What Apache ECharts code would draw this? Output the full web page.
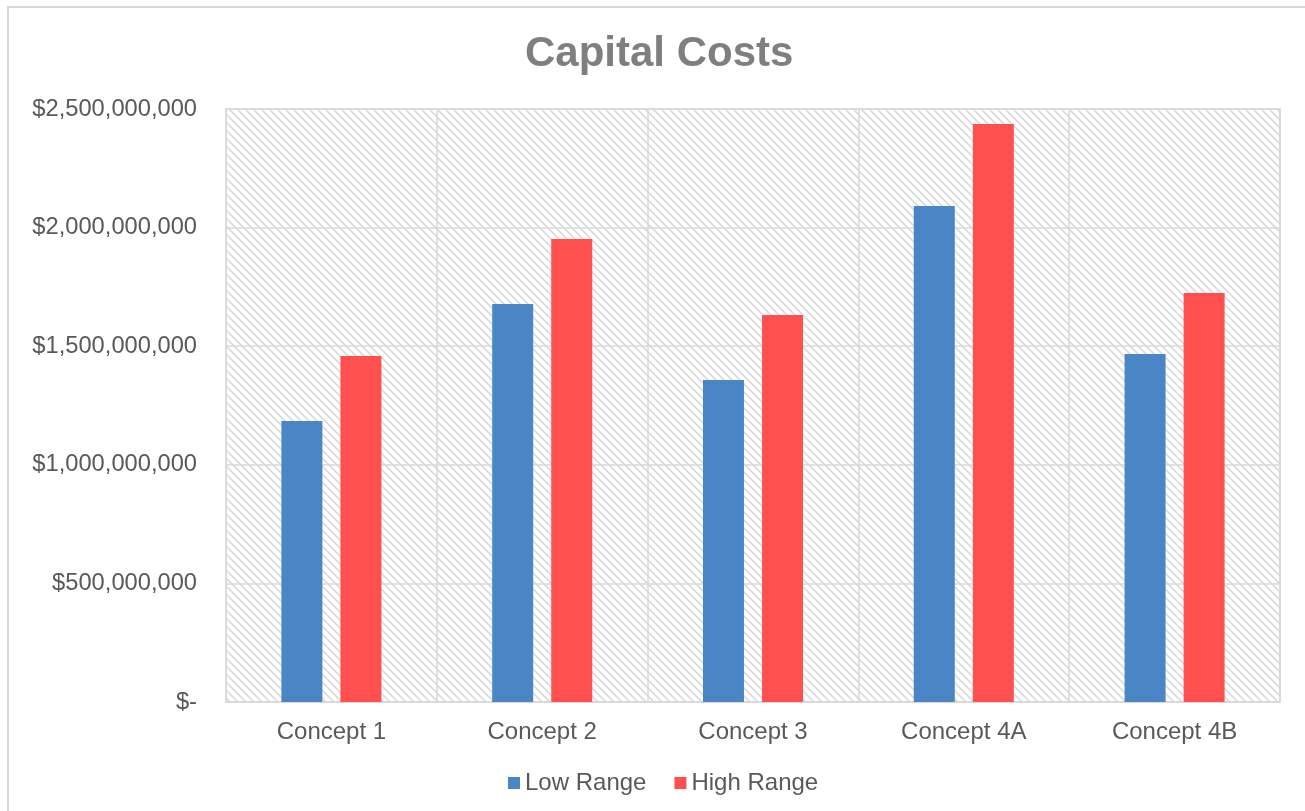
<!DOCTYPE html>
<html>
<head>
<meta charset="utf-8">
<title>Capital Costs</title>
<script src="https://cdn.jsdelivr.net/npm/echarts@6/dist/echarts.min.js"></script>
<style>
  html, body { margin: 0; padding: 0; background: #ffffff; }
  #chart { width: 1305px; height: 811px; }
</style>
</head>
<body>
<div id="chart"></div>
<script>
// Categories and the two cost estimates per concept (US dollars)
const categories = ['Concept 1', 'Concept 2', 'Concept 3', 'Concept 4A', 'Concept 4B'];
const lowRange  = [1185000000, 1678000000, 1357000000, 2091000000, 1467000000];
const highRange = [1459000000, 1952000000, 1632000000, 2437000000, 1724000000];
const seriesNames = ['Low Range', 'High Range'];
const chartTitle = 'Capital Costs';

// Value axis range and step
const yMin = 0;
const yMax = 2500000000;
const yStep = 500000000;

// Accounting-style dollar labels: "$-" for zero, otherwise "$1,000,000,000"
function dollarLabel(v) {
  if (v === 0) return '$-';
  return '$' + v.toLocaleString('en-US');
}

// Light diagonal hatch used as the plot-area fill
function hatchPattern() {
  const s = 8;
  const c = document.createElement('canvas');
  c.width = s; c.height = s;
  const ctx = c.getContext('2d');
  ctx.fillStyle = '#ffffff';
  ctx.fillRect(0, 0, s, s);
  ctx.strokeStyle = '#dadada';
  ctx.lineWidth = 1.6;
  ctx.beginPath();
  ctx.moveTo(-1, -1); ctx.lineTo(s + 1, s + 1);
  ctx.moveTo(s - 2, -2); ctx.lineTo(s + 2, 2);
  ctx.moveTo(-2, s - 2); ctx.lineTo(2, s + 2);
  ctx.stroke();
  return c;
}

const textColor = '#595959';
const gridColor = '#d9d9d9';
const fontFamily = 'Arial, "Liberation Sans", sans-serif';

const chart = echarts.init(document.getElementById('chart'), null, { renderer: 'canvas' });

chart.setOption({
  animation: false,
  backgroundColor: '#ffffff',
  textStyle: { fontFamily: fontFamily },
  color: ['#4a86c5', '#ff5050'],
  title: {
    text: chartTitle,
    left: 525,
    top: 33,
    padding: 0,
    textStyle: {
      fontFamily: fontFamily,
      fontSize: 42,
      fontWeight: 'bold',
      color: '#7f7f7f'
    }
  },
  graphic: [
    {
      // outer chart frame
      type: 'rect',
      shape: { x: 8, y: 7, width: 1400, height: 900 },
      style: { fill: null, stroke: gridColor, lineWidth: 2 },
      silent: true,
      z: 100
    }
  ],
  legend: {
    data: seriesNames,
    left: 508,
    top: 771,
    padding: 0,
    itemWidth: 12,
    itemHeight: 12,
    itemGap: 28,
    icon: 'rect',
    textStyle: { fontFamily: fontFamily, fontSize: 24, color: textColor }
  },
  grid: {
    left: 226,
    right: 25,
    top: 109,
    bottom: 109,
    show: true,
    backgroundColor: { image: hatchPattern(), repeat: 'repeat' },
    borderColor: gridColor,
    borderWidth: 1.5
  },
  xAxis: {
    type: 'category',
    data: categories,
    axisLine: { show: true, lineStyle: { color: gridColor, width: 2 } },
    axisTick: { show: false },
    splitLine: { show: true, lineStyle: { color: gridColor, width: 1.5 } },
    axisLabel: {
      color: textColor,
      fontSize: 24,
      fontFamily: fontFamily,
      margin: 18
    }
  },
  yAxis: {
    type: 'value',
    min: yMin,
    max: yMax,
    interval: yStep,
    axisLine: { show: false },
    axisTick: { show: false },
    splitLine: { show: true, lineStyle: { color: gridColor, width: 1.5 } },
    axisLabel: {
      color: textColor,
      fontSize: 23.7,
      fontFamily: fontFamily,
      margin: 29,
      formatter: dollarLabel
    }
  },
  series: [
    {
      name: seriesNames[0],
      type: 'bar',
      data: lowRange,
      barWidth: 41,
      barGap: '44%'
    },
    {
      name: seriesNames[1],
      type: 'bar',
      data: highRange,
      barWidth: 41,
      barGap: '44%'
    }
  ]
});
</script>
</body>
</html>
